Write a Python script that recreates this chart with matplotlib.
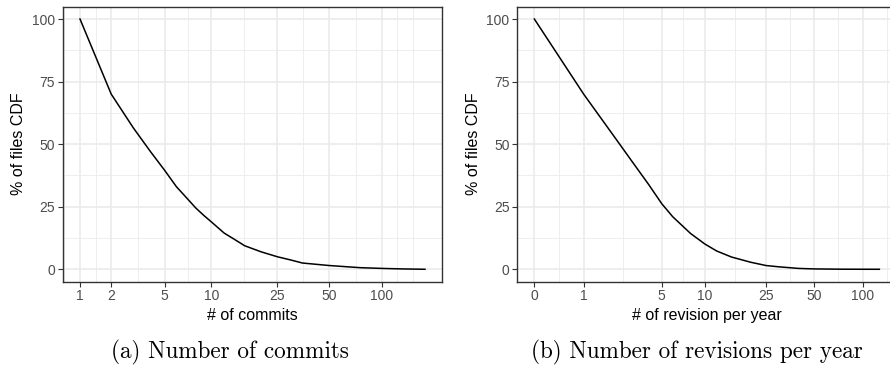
import numpy as np
import matplotlib
matplotlib.use("Agg")
import matplotlib.pyplot as plt

# ---- data ----
commits_x = [1, 2, 3, 4, 5, 6, 7, 8, 9, 10, 12, 14, 16, 20, 25, 30, 35, 50, 75, 100, 130, 176]
commits_y = [100, 70, 56.5, 47, 39.6, 33, 28.5, 24.5, 21.5, 19, 14.5, 11.8, 9.4, 7.0, 5.0, 3.7, 2.5, 1.5, 0.65, 0.35, 0.15, 0]
commits_breaks = [1, 2, 5, 10, 25, 50, 100]

rev_x = [0, 1, 2, 3, 4, 5, 6, 8, 10, 12, 15, 20, 25, 30, 40, 50, 75, 100, 127]
rev_y = [100, 70, 54, 42.6, 33.8, 26.2, 21, 14.3, 10.1, 7.3, 4.9, 2.8, 1.5, 1.0, 0.35, 0.15, 0.03, 0.01, 0]
rev_breaks = [0, 1, 5, 10, 25, 50, 100]

y_breaks = [0, 25, 50, 75, 100]

GRID = "#EBEBEB"
BORDER = "#333333"
TICKTXT = "#4D4D4D"

fig = plt.figure(figsize=(8.9, 3.79), dpi=100)
W, H = 890, 379


def fwd(x):
    return np.log1p(np.asarray(x, dtype=float))


def inv(t):
    return np.expm1(np.asarray(t, dtype=float))


def minor_breaks(b, lim):
    b = list(b)
    bd = b[1] - b[0]
    if lim[0] < b[0]:
        b = [b[0] - bd] + b
    if lim[1] > b[-1]:
        b = b + [b[-1] + bd]
    out = []
    for a, c in zip(b[:-1], b[1:]):
        out.append((a + c) / 2)
    out.append(b[-1])
    return [v for v in out if lim[0] <= v <= lim[1]]


def panel(rect_px, xs, ys, breaks, xlabel):
    l, r, t, bt = rect_px
    ax = fig.add_axes([l / W, 1 - bt / H, (r - l) / W, (bt - t) / H])
    tx = fwd(xs)
    rng = tx.max() - tx.min()
    lim = (tx.min() - 0.05 * rng, tx.max() + 0.05 * rng)
    ax.set_xscale("function", functions=(fwd, inv))
    ax.set_xlim(inv(lim[0]), inv(lim[1]))
    ax.set_ylim(-5, 105)
    tb = list(fwd(breaks))
    for m in minor_breaks(tb, lim):
        ax.axvline(inv(m), color=GRID, lw=0.6, zorder=0)
    for yb in [12.5, 37.5, 62.5, 87.5]:
        ax.axhline(yb, color=GRID, lw=0.6, zorder=0)
    for b in breaks:
        ax.axvline(b, color=GRID, lw=1.2, zorder=0.5)
    for yb in y_breaks:
        ax.axhline(yb, color=GRID, lw=1.2, zorder=0.5)
    ax.plot(xs, ys, color="black", lw=1.1, zorder=2)
    ax.set_xticks(breaks)
    ax.set_xticklabels([str(b) for b in breaks])
    ax.xaxis.set_minor_locator(matplotlib.ticker.NullLocator())
    ax.set_yticks(y_breaks)
    ax.set_yticklabels([str(v) for v in y_breaks])
    for s in ax.spines.values():
        s.set_color(BORDER)
        s.set_linewidth(1.0)
    ax.tick_params(axis="both", which="major", length=3.5, width=0.8, color=BORDER,
                   labelcolor=TICKTXT, labelsize=10, pad=2)
    ax.set_xlabel(xlabel, fontsize=11.5, family="Liberation Sans", labelpad=3)
    ax.set_ylabel("% of files CDF", fontsize=11.5, family="Liberation Sans", labelpad=4)
    for lab in ax.get_xticklabels() + ax.get_yticklabels():
        lab.set_family("Liberation Sans")
    return ax


axL = panel((62.75, 442.25, 6.5, 281.8), commits_x, commits_y, commits_breaks, "# of commits")
axR = panel((517.1, 896.6, 6.5, 281.8), rev_x, rev_y, rev_breaks, "# of revision per year")

fig.text(230 / W, 1 - 352 / H, "(a) Number of commits", family="cmr10", fontsize=16.7,
         ha="center", va="center")
fig.text(697 / W, 1 - 352 / H, "(b) Number of revisions per year", family="cmr10", fontsize=16.7,
         ha="center", va="center")

fig.savefig("out.png", dpi=100)
